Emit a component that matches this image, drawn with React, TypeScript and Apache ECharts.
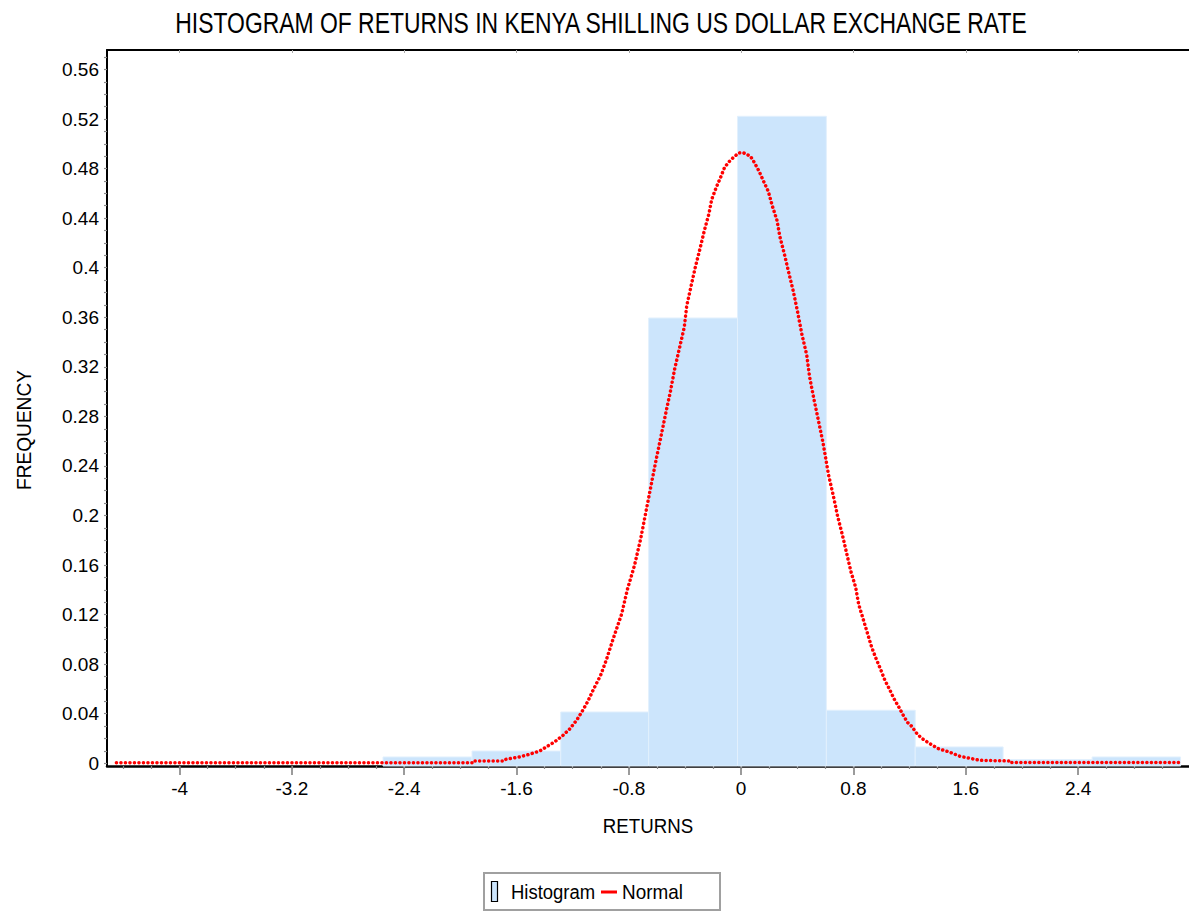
import React, { useEffect, useRef } from "react";
import * as echarts from "echarts";

const TITLE = "HISTOGRAM OF RETURNS IN KENYA SHILLING US DOLLAR EXCHANGE RATE";
const X_NAME = "RETURNS";
const Y_NAME = "FREQUENCY";
const LEGEND_NAMES = ["Histogram", "Normal"];

const X_MIN = -4.517;
const X_MAX = 3.19;
const Y_MIN = -0.0022;
const Y_MAX = 0.5757;

const X_TICK_LABELS = [-4, -3.2, -2.4, -1.6, -0.8, 0, 0.8, 1.6, 2.4];
const Y_TICK_LABELS = [0, 0.04, 0.08, 0.12, 0.16, 0.2, 0.24, 0.28, 0.32, 0.36, 0.4, 0.44, 0.48, 0.52, 0.56];

// histogram bins: [left edge, right edge, frequency]
const BIN_LEFT = [-2.551, -1.917, -1.285, -0.659, -0.026, 0.607, 1.24, 1.866, 2.5];
const BIN_RIGHT = [-1.917, -1.285, -0.659, -0.026, 0.607, 1.24, 1.866, 2.5, 3.13];
const BIN_FREQ = [0.0051, 0.0099, 0.0414, 0.3594, 0.5222, 0.0428, 0.0132, 0.003, 0.0051];

// normal curve
const NORMAL_X = [
  -4.45, -3.5, -2.5, -1.915, -1.91, -1.69, -1.684, -1.578, -1.507, -1.435, -1.412, -1.33, -1.269,
  -1.221, -1.17, -1.127, -1.093, -1.053, -1.001, -0.958, -0.915, -0.851, -0.811, -0.759, -0.716,
  -0.673, -0.63, -0.602, -0.568, -0.538, -0.504, -0.474, -0.44, -0.405, -0.388, -0.355, -0.326,
  -0.293, -0.262, -0.229, -0.21, -0.177, -0.146, -0.118, -0.075, -0.018, 0.013, 0.066, 0.096,
  0.127, 0.16, 0.194, 0.222, 0.255, 0.276, 0.31, 0.34, 0.372, 0.402, 0.433, 0.467, 0.488, 0.519,
  0.55, 0.583, 0.623, 0.657, 0.687, 0.721, 0.751, 0.782, 0.816, 0.837, 0.868, 0.899, 0.929, 0.963,
  0.994, 1.024, 1.058, 1.088, 1.12, 1.152, 1.184, 1.214, 1.248, 1.283, 1.343, 1.402, 1.485, 1.556,
  1.651, 1.699, 1.889, 1.912, 1.915, 2.5, 3.116,
];
const NORMAL_Y = [
  0.0004, 0.0004, 0.0004, 0.0004, 0.0019, 0.0019, 0.003, 0.0051, 0.0073, 0.0099, 0.0115, 0.0172, 0.0226,
  0.0277, 0.035, 0.043, 0.0498, 0.0594, 0.071, 0.0842, 0.0993, 0.1205, 0.14, 0.16, 0.181,
  0.206, 0.231, 0.247, 0.2655, 0.282, 0.3, 0.318, 0.3347, 0.352, 0.369, 0.386, 0.4006,
  0.4154, 0.43, 0.4437, 0.455, 0.465, 0.473, 0.481, 0.487, 0.4926, 0.4929, 0.49, 0.4845,
  0.478, 0.4697, 0.4614, 0.4498, 0.4383, 0.425, 0.41, 0.3955, 0.3807, 0.3643, 0.346, 0.3296, 0.3115, 0.2935,
  0.2768, 0.2588, 0.2324, 0.2157, 0.1994, 0.1843, 0.1697, 0.1547, 0.1418, 0.1283, 0.1168, 0.1052, 0.0939, 0.0839,
  0.0756, 0.067, 0.0595, 0.0522, 0.046, 0.0393, 0.0331, 0.0299, 0.0245, 0.0204, 0.0159, 0.0119, 0.009, 0.0057,
  0.0035, 0.0024, 0.0019, 0.0019, 0.0006, 0.0006, 0.0006,
];

const FONT = "'Liberation Sans', Arial, sans-serif";

export default function App() {
  const ref = useRef<HTMLDivElement>(null);

  useEffect(() => {
    if (!ref.current) return;
    const chart = echarts.init(ref.current, undefined, { renderer: "svg" });

    const xMinor: number[] = [];
    for (let i = -22; i <= 16; i++) xMinor.push(Math.round(i * 0.2 * 100) / 100);
    const yMinor: number[] = [];
    for (let i = 0; i <= 57; i++) yMinor.push(Math.round(i * 0.01 * 100) / 100);

    const histData = BIN_LEFT.map((l, i) => [l, BIN_RIGHT[i], BIN_FREQ[i]]);
    const normalData = NORMAL_X.map((x, i) => [x, NORMAL_Y[i]]);

    const labelStyle = { fontFamily: FONT, fontSize: 19, color: "#000" };

    chart.setOption({
      animation: false,
      backgroundColor: "#fff",
      grid: { left: 107, top: 50, right: 0, bottom: 147, containLabel: false },
      xAxis: [
        {
          type: "value",
          min: X_MIN,
          max: X_MAX,
          position: "bottom",
          axisLine: { show: true, onZero: false, lineStyle: { color: "#000", width: 2.5 } },
          axisTick: { show: true, customValues: X_TICK_LABELS, length: 9, lineStyle: { color: "#7a7a7a", width: 1.5 } },
          axisLabel: { show: true, customValues: X_TICK_LABELS, margin: 13, ...labelStyle },
          splitLine: { show: false },
        },
        {
          type: "value",
          min: X_MIN,
          max: X_MAX,
          position: "bottom",
          axisLine: { show: false, onZero: false },
          axisTick: { show: true, customValues: xMinor, length: 3, lineStyle: { color: "#8a8a8a", width: 1.2 } },
          axisLabel: { show: false },
          splitLine: { show: false },
        },
        {
          type: "value",
          min: X_MIN,
          max: X_MAX,
          position: "top",
          axisLine: { show: true, onZero: false, lineStyle: { color: "#000", width: 2 } },
          axisTick: { show: true, inside: true, customValues: X_TICK_LABELS, length: 3, lineStyle: { color: "#aaa", width: 1 } },
          axisLabel: { show: false },
          splitLine: { show: false },
        },
      ],
      yAxis: [
        {
          type: "value",
          min: Y_MIN,
          max: Y_MAX,
          axisLine: { show: true, onZero: false, lineStyle: { color: "#000", width: 2 } },
          axisTick: { show: true, customValues: yMinor, length: 3, lineStyle: { color: "#8a8a8a", width: 1.2 } },
          axisLabel: { show: true, customValues: Y_TICK_LABELS, margin: 8, ...labelStyle },
          splitLine: { show: false },
        },
      ],
      series: [
        {
          name: LEGEND_NAMES[0],
          type: "custom",
          xAxisIndex: 0,
          yAxisIndex: 0,
          encode: { x: [0, 1], y: 2 },
          data: histData,
          renderItem: (params: any, api: any) => {
            const p0 = api.coord([api.value(0), api.value(2)]);
            const p1 = api.coord([api.value(1), Y_MIN]);
            return {
              type: "rect",
              shape: { x: p0[0], y: p0[1], width: p1[0] - p0[0], height: p1[1] - p0[1] },
              style: { fill: "#cce5fc", stroke: "#e2f0fd", lineWidth: 1 },
            };
          },
          z: 1,
        },
        {
          name: LEGEND_NAMES[1],
          type: "line",
          xAxisIndex: 0,
          yAxisIndex: 0,
          data: normalData,
          showSymbol: false,
          smooth: false,
          lineStyle: { color: "#ff0000", width: 3.5, type: [0.1, 4.4], cap: "round" },
          z: 3,
        },
      ],
      graphic: [
        {
          type: "text",
          x: 601,
          y: 23,
          scaleX: 0.79,
          style: { text: TITLE, fontFamily: FONT, fontSize: 29, fill: "#000", textAlign: "center", textVerticalAlign: "middle" },
        },
        {
          type: "text",
          x: 648,
          y: 826,
          scaleX: 0.89,
          style: { text: X_NAME, fontFamily: FONT, fontSize: 21, fill: "#000", textAlign: "center", textVerticalAlign: "middle" },
        },
        {
          type: "text",
          x: 24,
          y: 430,
          rotation: Math.PI / 2,
          scaleX: 0.91,
          style: { text: Y_NAME, fontFamily: FONT, fontSize: 21, fill: "#000", textAlign: "center", textVerticalAlign: "middle" },
        },
        {
          type: "group",
          children: [
            { type: "rect", shape: { x: 484, y: 873, width: 236, height: 37 }, style: { fill: "#fff", stroke: "#a0a0a0", lineWidth: 2 } },
            { type: "rect", shape: { x: 491.5, y: 881.5, width: 6, height: 20 }, style: { fill: "#cce5fc", stroke: "#000", lineWidth: 1.2 } },
            { type: "text", x: 511, y: 892, scaleX: 0.88, style: { text: LEGEND_NAMES[0], fontFamily: FONT, fontSize: 21, fill: "#000", textVerticalAlign: "middle" } },
            { type: "line", shape: { x1: 601, y1: 892, x2: 617, y2: 892 }, style: { stroke: "#ff0000", lineWidth: 3 } },
            { type: "text", x: 622, y: 892, scaleX: 0.9, style: { text: LEGEND_NAMES[1], fontFamily: FONT, fontSize: 21, fill: "#000", textVerticalAlign: "middle" } },
          ],
        },
      ],
    });

    return () => chart.dispose();
  }, []);

  return <div ref={ref} style={{ position: "absolute", left: 0, top: 0, width: 1189, height: 913 }} />;
}
